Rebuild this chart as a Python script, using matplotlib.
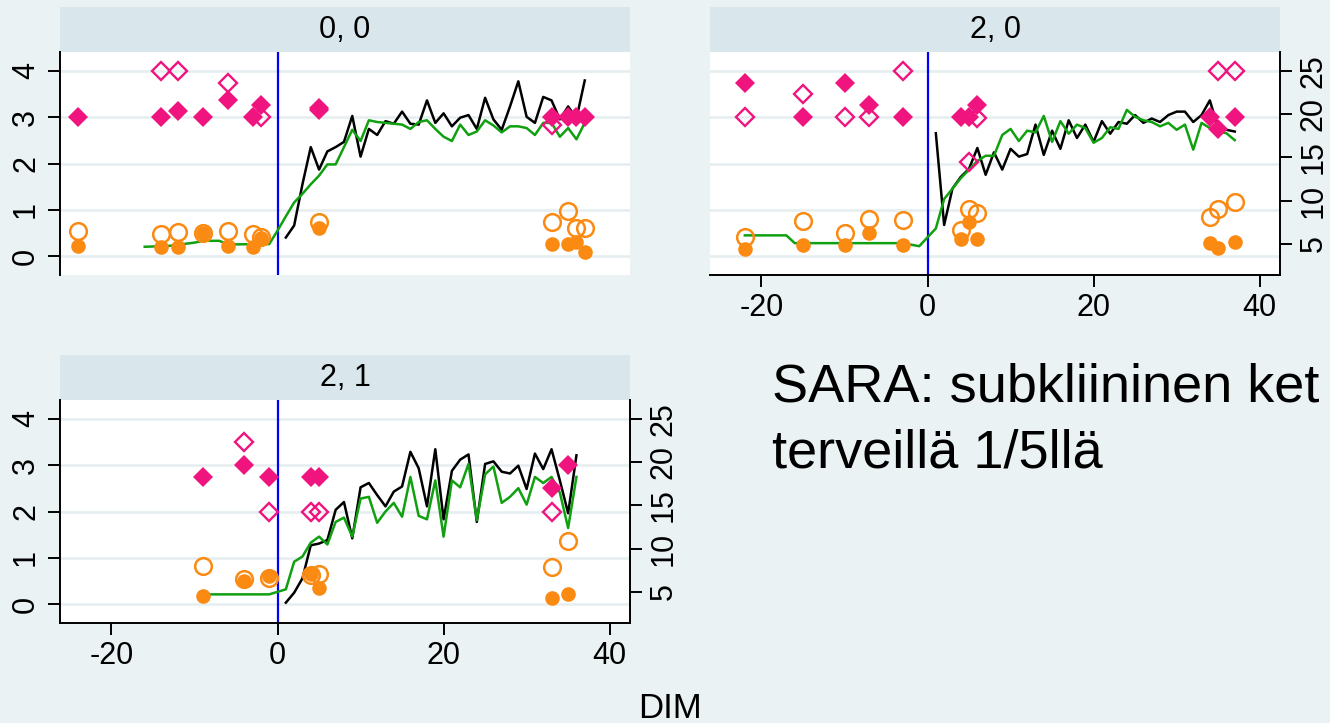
import matplotlib.pyplot as plt

plt.rcParams['font.family'] = ['Liberation Sans', 'DejaVu Sans']

# colours (Stata s2color look)
BG = '#EAF2F3'
STRIP = '#D9E6EB'
GRID = '#E6EEF0'
PINK = '#F0147F'
ORANGE = '#FA8A12'
GREEN = '#10A010'

# ---- panel "0, 0" ----
p1_dia_fill_x = [-24, -14, -12, -9, -6, -3, -2, 5, 5, 33, 35, 36, 37]
p1_dia_fill_y = [3.0, 3.0, 3.13, 3.0, 3.37, 3.0, 3.26, 3.15, 3.2, 3.0, 3.0, 3.0, 3.0]
p1_dia_open_x = [-14, -12, -6, -2, 33]
p1_dia_open_y = [4.0, 4.0, 3.75, 3.0, 2.83]
p1_circ_fill_x = [-24, -14, -12, -9, -6, -3, -2, 5, 33, 35, 36, 37]
p1_circ_fill_y = [0.22, 0.2, 0.2, 0.5, 0.21, 0.2, 0.4, 0.6, 0.25, 0.25, 0.3, 0.09]
p1_circ_open_x = [-24, -14, -12, -9, -6, -3, -2, 5, 33, 35, 36, 37]
p1_circ_open_y = [0.55, 0.48, 0.52, 0.5, 0.55, 0.47, 0.42, 0.73, 0.73, 0.97, 0.6, 0.6]
p1_black_x = list(range(1, 38))
p1_black_y = [5.75, 7.14, 11.9, 16.2, 13.6, 15.7, 16.2, 16.8, 19.8, 15.1,
              18.3, 17.6, 19.2, 18.9, 20.3, 18.9, 18.8, 21.6, 19.0, 20.1,
              18.6, 19.6, 19.9, 18.3, 21.9, 19.4, 18.2, 20.9, 23.8, 19.7,
              19.0, 22.0, 21.6, 19.4, 20.9, 19.5, 23.9]
p1_green_x = [-16, -13, -10, -9, -7, -6, -1, 0] + list(range(1, 38))
p1_green_y = [4.68, 4.79, 5.16, 5.37, 5.37, 4.95, 5.0, 6.55,
              8.2, 9.8, 10.8, 11.9, 12.9, 14.2, 14.2, 16.2, 18.2, 16.9,
              19.3, 19.1, 19.0, 18.9, 18.8, 18.3, 19.1, 19.3, 18.3, 17.4,
              16.9, 18.8, 17.6, 18.0, 19.3, 18.7, 17.9, 18.6, 18.6, 18.4,
              17.6, 19.0, 19.0, 17.4, 18.4, 17.1, 19.0]

# ---- panel "2, 0" ----
p2_dia_fill_x = [-22, -15, -10, -7, -3, 4, 5, 6, 34, 35, 37]
p2_dia_fill_y = [3.75, 3.0, 3.75, 3.27, 3.0, 3.0, 3.0, 3.26, 3.0, 2.75, 3.0]
p2_dia_open_x = [-22, -15, -10, -7, -3, 5, 6, 35, 37]
p2_dia_open_y = [3.0, 3.51, 3.0, 3.0, 4.0, 2.03, 2.98, 4.0, 4.0]
p2_circ_fill_x = [-22, -15, -10, -7, -3, 4, 5, 6, 34, 35, 37]
p2_circ_fill_y = [0.16, 0.24, 0.24, 0.5, 0.24, 0.36, 0.73, 0.36, 0.29, 0.17, 0.31]
p2_circ_open_x = [-22, -15, -10, -7, -3, 4, 5, 6, 34, 35, 37]
p2_circ_open_y = [0.41, 0.75, 0.5, 0.81, 0.77, 0.56, 1.01, 0.92, 0.85, 1.01, 1.17]
p2_black_x = list(range(1, 38))
p2_black_y = [17.8, 7.2, 11.4, 12.75, 13.7, 16.1, 13.0, 15.6, 13.6, 16.0,
              15.1, 15.4, 18.8, 15.3, 18.1, 16.0, 19.3, 17.25, 18.8, 16.8,
              19.2, 17.75, 19.1, 18.9, 19.9, 19.0, 19.5, 19.1, 19.9, 20.3,
              20.3, 19.1, 19.9, 21.6, 18.4, 18.2, 18.0]
p2_green_x = [-22, -17, -16, -3, -1] + list(range(1, 38))
p2_green_y = [6.0, 6.0, 5.1, 5.1, 4.75,
              6.8, 10.2, 11.4, 12.6, 13.6, 14.6, 15.2, 15.2, 17.6, 18.3,
              16.9, 18.1, 17.9, 19.8, 16.8, 19.2, 17.75, 18.8, 18.4, 16.7,
              17.25, 18.5, 18.3, 20.5, 19.7, 19.3, 19.1, 18.6, 19.0, 18.2,
              18.8, 15.9, 19.0, 18.4, 18.0, 17.8, 17.0]

# ---- panel "2, 1" ----
p3_dia_fill_x = [-9, -4, -1, 4, 5, 33, 35]
p3_dia_fill_y = [2.75, 3.0, 2.75, 2.75, 2.75, 2.5, 3.0]
p3_dia_open_x = [-4, -1, 4, 5, 33]
p3_dia_open_y = [3.5, 2.0, 2.0, 2.0, 2.0]
p3_circ_fill_x = [-9, -4, -1, 4, 5, 33, 35]
p3_circ_fill_y = [0.18, 0.5, 0.6, 0.64, 0.34, 0.12, 0.22]
p3_circ_open_x = [-9, -4, -1, 4, 5, 33, 35]
p3_circ_open_y = [0.83, 0.55, 0.57, 0.62, 0.64, 0.8, 1.37]
p3_black_x = list(range(1, 37))
p3_black_y = [3.77, 4.92, 6.58, 10.4, 10.6, 11.0, 14.5, 15.4, 11.2, 17.1,
              17.6, 16.2, 14.9, 16.6, 17.2, 21.2, 19.3, 14.9, 21.5, 13.4,
              19.0, 20.3, 20.9, 13.1, 19.8, 20.1, 18.9, 18.7, 19.6, 16.9,
              21.0, 19.2, 21.5, 17.9, 14.1, 20.8]
p3_green_x = [-9, -1] + list(range(1, 37))
p3_green_y = [4.73, 4.73,
              5.31, 8.5, 9.1, 10.7, 11.4, 10.5, 13.1, 13.6, 11.4, 15.8,
              16.0, 13.0, 14.3, 15.3, 13.7, 18.3, 13.8, 13.4, 17.9, 11.4,
              17.9, 17.1, 19.8, 13.3, 18.6, 19.5, 15.3, 16.0, 17.0, 15.1,
              18.3, 17.6, 18.3, 16.5, 12.4, 18.3]

left_ticks = [0, 1, 2, 3, 4]
right_ticks = [5, 10, 15, 20, 25]
x_ticks = [-20, 0, 20, 40]

W, H = 1330, 723
XLIM = (-26.2, 42.45)
YL = (-0.41, 4.41)
YR = (1.42, 27.19)
FS = 22

fig = plt.figure(figsize=(W / 100, H / 100), dpi=100, facecolor=BG)


def box(x0, y0, x1, y1):
    return [x0 / W, 1 - y1 / H, (x1 - x0) / W, (y1 - y0) / H]


def panel(x0, y0, title, d, left, right, bottom):
    sax = fig.add_axes(box(x0, y0, x0 + 570, y0 + 45))
    sax.set_facecolor(STRIP)
    sax.set_xticks([])
    sax.set_yticks([])
    for s in sax.spines.values():
        s.set_visible(False)
    sax.text(0.5, 0.5, title, ha='center', va='center', fontsize=FS,
             transform=sax.transAxes)

    ax = fig.add_axes(box(x0, y0 + 45, x0 + 570, y0 + 268))
    ax.set_facecolor('white')
    ax.set_xlim(XLIM)
    ax.set_ylim(YL)
    ax.grid(axis='y', color=GRID, lw=1.9)
    ax.set_axisbelow(True)
    ax.axvline(0, color='#0000FF', lw=1.6, zorder=1)

    # lines on the right-hand scale
    ax2 = ax.twinx()
    ax2.set_ylim(YR)
    ax2.plot(d['bx'], d['by'], color='black', lw=1.8)
    ax2.plot(d['gx'], d['gy'], color=GREEN, lw=1.8)

    # scores on the left scale, drawn on top
    ax3 = ax.twinx()
    ax3.set_ylim(YL)
    ax3.axis('off')
    ax3.plot(d['cfx'], d['cfy'], 'o', color=ORANGE, ms=10.5, mew=0,
             clip_on=False)
    ax3.plot(d['cox'], d['coy'], 'o', mfc='none', mec=ORANGE, ms=12,
             mew=1.8, clip_on=False)
    ax3.plot(d['dfx'], d['dfy'], 'D', color=PINK, ms=10.5, mew=0,
             clip_on=False)
    ax3.plot(d['dox'], d['doy'], 'D', mfc='none', mec=PINK, ms=8.8,
             mew=1.7, clip_on=False)

    for a in (ax, ax2):
        for s in a.spines.values():
            s.set_visible(False)
            s.set_linewidth(1.4)
    ax.spines['left'].set_visible(left)
    ax.spines['bottom'].set_visible(bottom)
    ax2.spines['right'].set_visible(right)

    ax.set_yticks(left_ticks, labels=[str(v) for v in left_ticks],
                  rotation=90, va='center')
    ax2.set_yticks(right_ticks, labels=[str(v) for v in right_ticks],
                   rotation=90, va='center')
    ax.set_xticks(x_ticks, labels=[str(v) for v in x_ticks])
    ax.tick_params(axis='y', left=left, labelleft=left, right=False,
                   labelright=False, direction='out', length=8.6,
                   width=1.4, labelsize=FS, pad=5)
    ax2.tick_params(axis='y', right=right, labelright=right, left=False,
                    labelleft=False, direction='out', length=8.6,
                    width=1.4, labelsize=FS, pad=5)
    ax.tick_params(axis='x', bottom=bottom, labelbottom=bottom,
                   direction='out', length=8.6, width=1.4, labelsize=FS,
                   pad=4)


panel(60, 7, '0, 0', dict(
    dfx=p1_dia_fill_x, dfy=p1_dia_fill_y, dox=p1_dia_open_x, doy=p1_dia_open_y,
    cfx=p1_circ_fill_x, cfy=p1_circ_fill_y, cox=p1_circ_open_x, coy=p1_circ_open_y,
    bx=p1_black_x, by=p1_black_y, gx=p1_green_x, gy=p1_green_y),
    left=True, right=False, bottom=False)

panel(710, 7, '2, 0', dict(
    dfx=p2_dia_fill_x, dfy=p2_dia_fill_y, dox=p2_dia_open_x, doy=p2_dia_open_y,
    cfx=p2_circ_fill_x, cfy=p2_circ_fill_y, cox=p2_circ_open_x, coy=p2_circ_open_y,
    bx=p2_black_x, by=p2_black_y, gx=p2_green_x, gy=p2_green_y),
    left=False, right=True, bottom=True)

panel(60, 355, '2, 1', dict(
    dfx=p3_dia_fill_x, dfy=p3_dia_fill_y, dox=p3_dia_open_x, doy=p3_dia_open_y,
    cfx=p3_circ_fill_x, cfy=p3_circ_fill_y, cox=p3_circ_open_x, coy=p3_circ_open_y,
    bx=p3_black_x, by=p3_black_y, gx=p3_green_x, gy=p3_green_y),
    left=True, right=True, bottom=True)

fig.text(670 / W, 1 - 718 / H, 'DIM', ha='center', va='baseline', fontsize=25)

fig.text(772 / W, 1 - 402 / H, 'SARA: subkliininen ket', ha='left',
         va='baseline', fontsize=39)
fig.text(772 / W, 1 - 468 / H, 'terveillä 1/5llä', ha='left',
         va='baseline', fontsize=39)

fig.savefig('out.png', dpi=100, facecolor=BG)
